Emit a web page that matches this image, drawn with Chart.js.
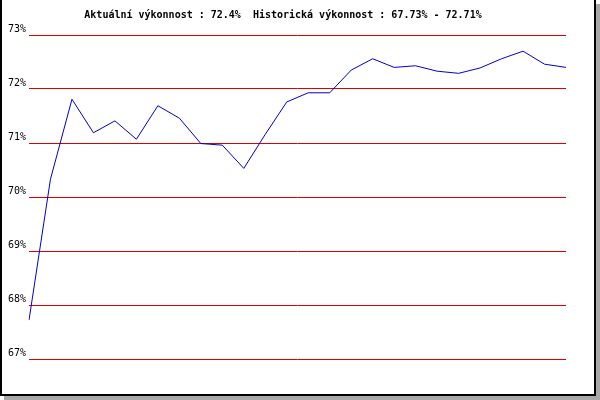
<!DOCTYPE html>
<html>
<head>
    <title>Výkonnost</title>
    <style>
        body { margin: 0px; background-color: #ffffff; }
        #frame {
            position: absolute; left: 0px; top: 0px;
            width: 592px; height: 394px;
            border-left: 2px solid #000000;
            border-right: 2px solid #000000;
            border-bottom: 2px solid #000000;
            background-color: #ffffff;
            box-shadow: 4px 4px 0px #a8a8a8;
        }
        #holder { position: absolute; left: 0px; top: 0px; width: 600px; height: 400px; }
    </style>
    <script src="https://cdn.jsdelivr.net/npm/chart.js"></script>
</head>
<body>
    <div id="frame"></div>
    <div id="holder">
        <canvas id="myChart" width="600" height="400"></canvas>
    </div>
<script>
// chart data
const titleText = "Aktuální výkonnost : 72.4%  Historická výkonnost : 67.73% - 72.71%";
const sampleLabels = ["1", "2", "3", "4", "5", "6", "7", "8", "9", "10", "11", "12", "13",
    "14", "15", "16", "17", "18", "19", "20", "21", "22", "23", "24", "25", "26"];
const performanceValues = [67.72, 70.33, 71.81, 71.19, 71.41, 71.07, 71.69, 71.46, 70.99, 70.96,
    70.53, 71.16, 71.76, 71.93, 71.93, 72.35, 72.56, 72.40, 72.43, 72.33,
    72.29, 72.39, 72.56, 72.70, 72.46, 72.40];
const yMin = 67;
const yMax = 73;

const monoFont = { family: "'DejaVu Sans Mono', monospace", size: 10 };

const ctx = document.getElementById('myChart').getContext('2d');
const lineChart = new Chart(ctx, {
    type: 'line',
    data: {
        labels: sampleLabels,
        datasets: [{
            data: performanceValues,
            borderColor: '#0000cc',
            borderWidth: 1,
            pointRadius: 0,
            tension: 0,
            fill: false
        }]
    },
    options: {
        responsive: false,
        animation: false,
        layout: { padding: { left: 0, right: 34, top: 0, bottom: 41 } },
        plugins: {
            legend: { display: false },
            tooltip: { enabled: false },
            title: {
                display: true,
                text: titleText,
                color: '#000000',
                font: monoFont,
                padding: { top: 9, bottom: 14 }
            }
        },
        scales: {
            x: {
                display: false,
                offset: false
            },
            y: {
                min: yMin,
                max: yMax,
                border: { display: false },
                grid: { color: '#dd0000', lineWidth: 1, drawTicks: false },
                ticks: {
                    stepSize: 1,
                    color: '#000000',
                    font: monoFont,
                    padding: 3,
                    labelOffset: -6,
                    callback: (v) => v + '%'
                },
                afterFit: (scale) => { scale.width = 29; }
            }
        }
    }
});
</script>
</body>
</html>
